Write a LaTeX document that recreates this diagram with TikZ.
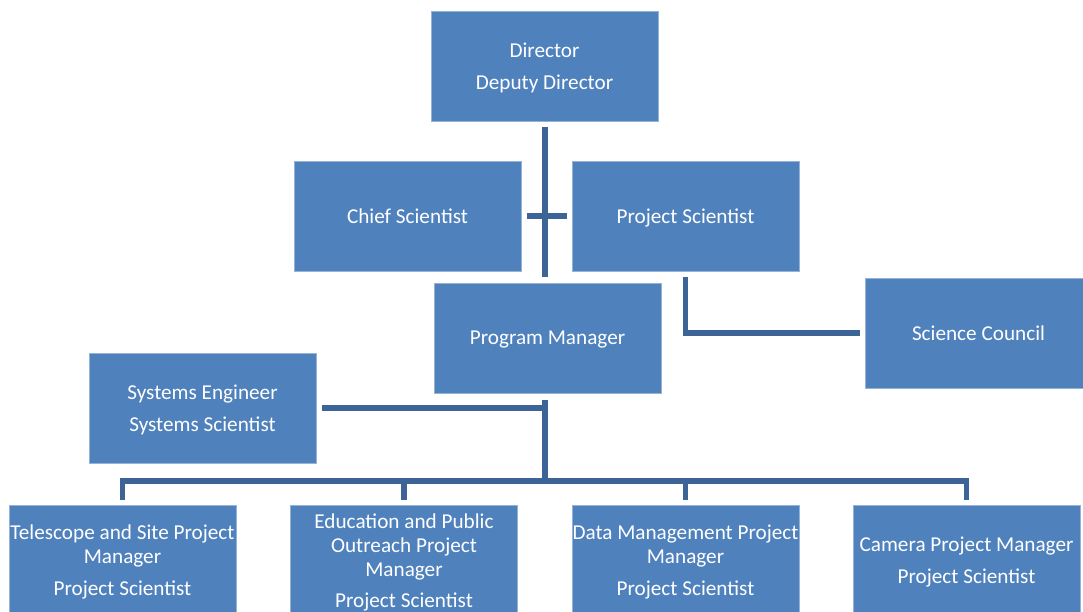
\documentclass[tikz,border=0pt]{standalone}
\usepackage{fontspec}
\setmainfont{Carlito}
\definecolor{boxblue}{RGB}{79,129,189}
\definecolor{lineblue}{RGB}{60,100,150}
\begin{document}
\begin{tikzpicture}[x=1pt,y=-1pt,
  orgbox/.style={rectangle, fill=boxblue, draw=boxblue!60!white, line width=0.6pt,
    minimum width=227pt, minimum height=110pt, inner sep=0pt},
  boxtext/.style={text=white, inner sep=0pt, yshift=-2pt,
    align=center, font=\fontsize{21.2}{24}\selectfont},
  flattext/.style={boxtext, yshift=2pt}]
\tikzset{conn/.style={draw=lineblue, line width=5.5pt}}
\useasboundingbox (0,0) rectangle (1083,612);
\node[orgbox, label={[boxtext]center:{Director\\[8.5pt]Deputy Director}}] (dir) at (544.5,66) {};
\node[orgbox, label={[flattext]center:{Chief Scientist}}] (chief) at (407.5,216) {};
\node[orgbox, label={[boxtext]center:{Project Scientist}}] (ps) at (685.5,216) {};
\node[orgbox, minimum width=219pt, label={[flattext, xshift=4pt]center:{Science Council}}] (sc) at (974.5,333) {};
\node[orgbox, label={[boxtext]center:{Program Manager}}] (pm) at (547.5,338) {};
\node[orgbox, label={[boxtext]center:{Systems Engineer\\[8pt]Systems Scientist}}] (sys) at (202.5,408) {};
\node[orgbox, label={[boxtext]center:{Telescope and Site Project\\Manager\\[8pt]Project Scientist}}] (b1) at (122.5,560) {};
\node[orgbox, label={[boxtext]center:{Education and Public\\Outreach Project\\Manager\\[7pt]Project Scientist}}] (b2) at (404,560) {};
\node[orgbox, label={[boxtext]center:{Data Management Project\\Manager\\[8pt]Project Scientist}}] (b3) at (685.5,560) {};
\node[orgbox, label={[boxtext]center:{Camera Project Manager\\[8pt]Project Scientist}}] (b4) at (966.5,560) {};
% spine
\coordinate (top) at (545,127);
\coordinate (mid) at (545,277);
\draw[conn] (top) -- (mid);
\draw[conn] ([xshift=6pt]chief.east) -- ([xshift=-5pt]ps.west);
\draw[conn] ([yshift=-6pt]ps.south) |- ([xshift=-5pt]sc.west);
% lower tree
\coordinate (pmout) at (545,400);
\coordinate (hub) at (545,481);
\coordinate (sysj) at (545,408);
\draw[conn] (pmout) -- (hub);
\draw[conn] ([xshift=6pt]sys.east) -- (sysj);
\draw[conn] ([yshift=5pt]b1.north) |- (hub) -| ([yshift=5pt]b4.north);
\draw[conn] (hub -| b2.north) -- ([yshift=5pt]b2.north);
\draw[conn] (hub -| b3.north) -- ([yshift=5pt]b3.north);
\end{tikzpicture}
\end{document}
